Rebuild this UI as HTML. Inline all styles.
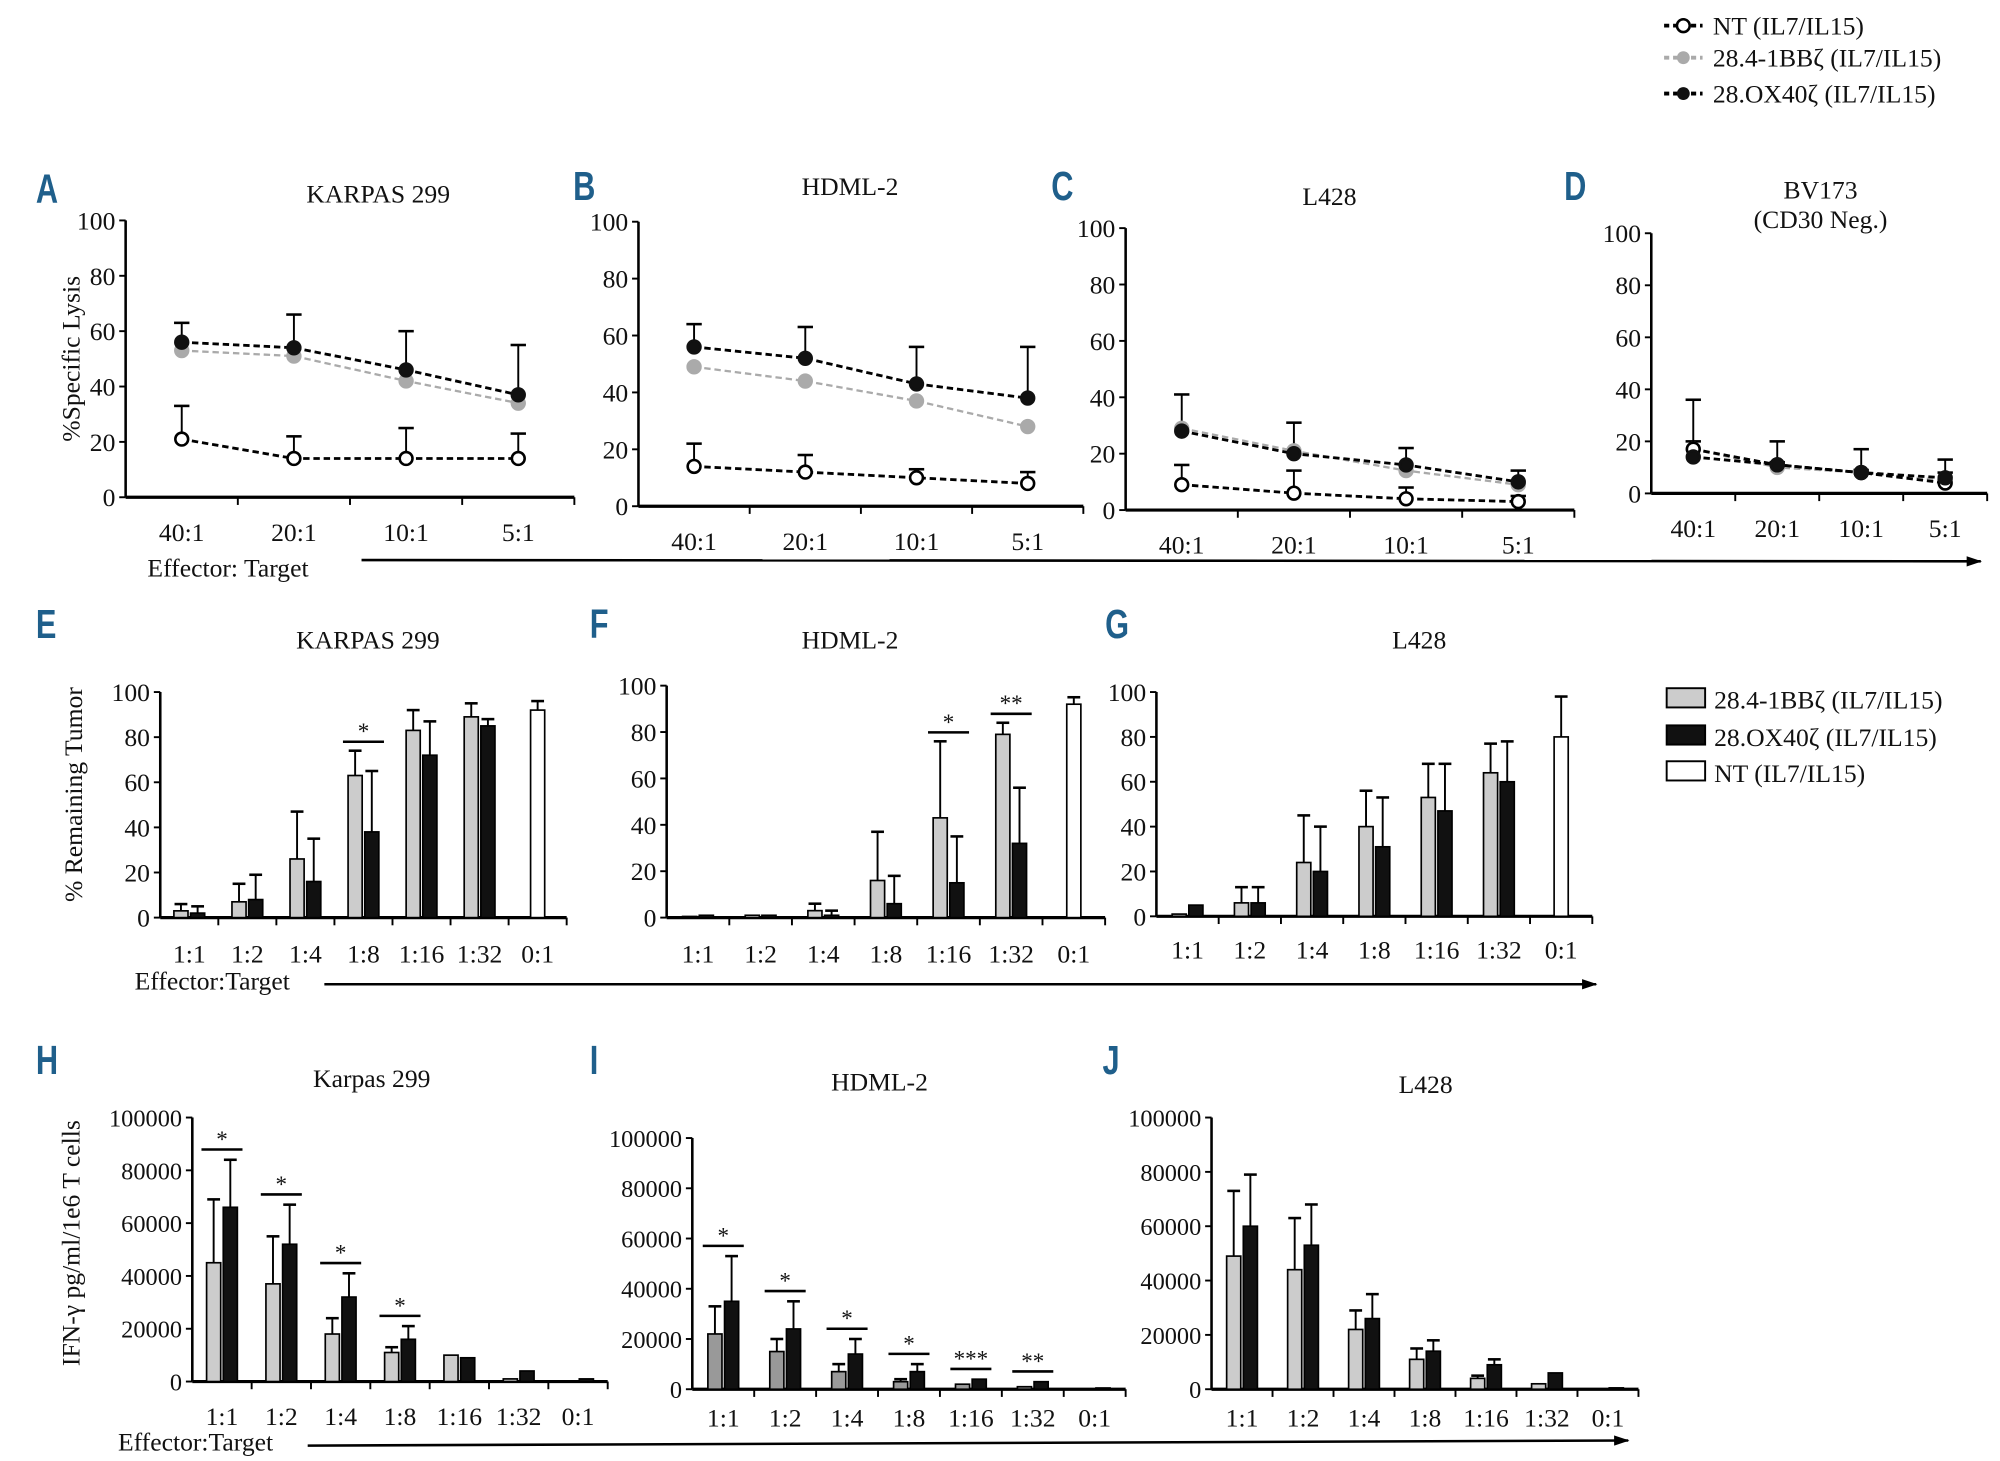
<!DOCTYPE html>
<html><head><meta charset="utf-8"><style>
html,body{margin:0;padding:0;background:#fff}
svg{display:block}
text{font-family:"Liberation Serif",serif;fill:#111}
.pl{font-family:"Liberation Sans",sans-serif;font-weight:bold;fill:#1f5f8b;font-size:30px}
</style></head><body>
<svg id="fig" width="2000" height="1461" viewBox="0 0 1560 1140" preserveAspectRatio="none" xmlns="http://www.w3.org/2000/svg">
<defs><marker id="ah" markerUnits="userSpaceOnUse" markerWidth="12" markerHeight="8" refX="11" refY="4" orient="auto"><path d="M0,0 L12,4 L0,8 z" fill="#000"/></marker></defs>
<g>
 <line x1="1298" y1="20" x2="1328" y2="20" stroke="#000" stroke-width="3" stroke-dasharray="4,3"/><circle cx="1313" cy="20" r="5" fill="#fff" stroke="#000" stroke-width="2"/><text x="1336" y="27" font-size="20" font-family="Liberation Serif, serif">NT (IL7/IL15)</text>
 <line x1="1298" y1="45" x2="1328" y2="45" stroke="#aaa" stroke-width="3" stroke-dasharray="4,3"/><circle cx="1313" cy="45" r="5" fill="#aaa"/><text x="1336" y="52" font-size="20" font-family="Liberation Serif, serif">28.4-1BBζ (IL7/IL15)</text>
 <line x1="1298" y1="73" x2="1328" y2="73" stroke="#000" stroke-width="3" stroke-dasharray="4,3"/><circle cx="1313" cy="73" r="5" fill="#111"/><text x="1336" y="80" font-size="20" font-family="Liberation Serif, serif">28.OX40ζ (IL7/IL15)</text>
</g>
<g>
 <rect x="1300" y="537" width="30" height="15" fill="#ccc" stroke="#000" stroke-width="1.5"/><text x="1337" y="553" font-size="20" font-family="Liberation Serif, serif">28.4-1BBζ  (IL7/IL15)</text>
 <rect x="1300" y="566" width="30" height="15" fill="#111" stroke="#000" stroke-width="1.5"/><text x="1337" y="582" font-size="20" font-family="Liberation Serif, serif">28.OX40ζ (IL7/IL15)</text>
 <rect x="1300" y="594" width="30" height="15" fill="#fff" stroke="#000" stroke-width="1.5"/><text x="1337" y="610" font-size="20" font-family="Liberation Serif, serif">NT (IL7/IL15)</text>
</g>
<line x1="282" y1="437" x2="1545" y2="438" stroke="#000" stroke-width="2" marker-end="url(#ah)"/>
<text x="115" y="450" font-size="20" font-family="Liberation Serif, serif">Effector: Target</text>
<line x1="253" y1="768" x2="1245" y2="768" stroke="#000" stroke-width="2" marker-end="url(#ah)"/>
<text x="105" y="772" font-size="20" font-family="Liberation Serif, serif">Effector:Target</text>
<line x1="240" y1="1128" x2="1270" y2="1124" stroke="#000" stroke-width="2" marker-end="url(#ah)"/>
<text x="92" y="1132" font-size="20" font-family="Liberation Serif, serif">Effector:Target</text>
<text transform="translate(62,280) rotate(-90)" text-anchor="middle" font-size="20" font-family="Liberation Serif, serif">%Specific Lysis</text>
<text transform="translate(64,620) rotate(-90)" text-anchor="middle" font-size="20" font-family="Liberation Serif, serif">% Remaining Tumor</text>
<text transform="translate(62,970) rotate(-90)" text-anchor="middle" font-size="20" font-family="Liberation Serif, serif">IFN-γ pg/ml/1e6 T cells</text>
</svg>
<script>
const lineCats = ["40:1","20:1","10:1","5:1"];
const barCats = ["1:1","1:2","1:4","1:8","1:16","1:32","0:1"];
const pctTicks = [0,20,40,60,80,100];
const ifnTicks = [0,20000,40000,60000,80000,100000];
const aBlack=[56,54,46,37], aGray=[53,51,42,34], aOpen=[21,14,14,14];
const aBlackErr=[63,66,60,55], aOpenErr=[33,22,25,23];
const bBlack=[56,52,43,38], bGray=[49,44,37,28], bOpen=[14,12,10,8];
const bBlackErr=[64,63,56,56], bOpenErr=[22,18,13,12];
const cBlack=[28,20,16,10], cGray=[29,21,14,9], cOpen=[9,6,4,3];
const cBlackErr=[41,31,22,14], cOpenErr=[16,14,8,5];
const dBlack=[14,11,8,6], dGray=[17,10,8,5], dOpen=[17,11,8,4];
const dBlackErr=[20,20,17,13], dOpenErr=[36,12,9,8];
const eGray=[3,7,26,63,83,89,null], eBlack=[2,8,16,38,72,85,null], eNT=[null,null,null,null,null,null,92];
const eGrayErr=[6,15,47,74,92,95,null], eBlackErr=[5,19,35,65,87,88,null], eNTErr=[null,null,null,null,null,null,96];
const fGray=[0.5,1,3,16,43,79,null], fBlack=[1,1,1,6,15,32,null], fNT=[null,null,null,null,null,null,92];
const fGrayErr=[null,null,6,37,76,84,null], fBlackErr=[null,null,3,18,35,56,null], fNTErr=[null,null,null,null,null,null,95];
const gGray=[1,6,24,40,53,64,null], gBlack=[5,6,20,31,47,60,null], gNT=[null,null,null,null,null,null,80];
const gGrayErr=[null,13,45,56,68,77,null], gBlackErr=[null,13,40,53,68,78,null], gNTErr=[null,null,null,null,null,null,98];
const hGray=[45000,37000,18000,11000,10000,1000,null], hBlack=[66000,52000,32000,16000,9000,4000,1000];
const hGrayErr=[69000,55000,24000,13000,null,null,null], hBlackErr=[84000,67000,41000,21000,null,null,null];
const iGray=[22000,15000,7000,3000,2000,1000,null], iBlack=[35000,24000,14000,7000,4000,3000,500];
const iGrayErr=[33000,20000,10000,4000,null,null,null], iBlackErr=[53000,35000,20000,10000,null,null,null];
const jGray=[49000,44000,22000,11000,4000,2000,null], jBlack=[60000,53000,26000,14000,9000,6000,500];
const jGrayErr=[73000,63000,29000,15000,5000,null,null], jBlackErr=[79000,68000,35000,18000,11000,null,null];
const hStars=["*","*","*","*",null,null,null];
const iStars=["*","*","*","*","***","**",null];
const eStars=[null,null,null,"*",null,null,null];
const fStars=[null,null,null,null,"*","**",null];

const svg=document.getElementById('fig');
const NS="http://www.w3.org/2000/svg";
function mk(tag,attrs,parent){const e=document.createElementNS(NS,tag);for(const k in attrs)e.setAttribute(k,attrs[k]);(parent||svg).appendChild(e);return e;}
function txt(s,x,y,size,anchor,parent){const t=mk('text',{x:x,y:y,'font-size':size,'text-anchor':anchor||'start','font-family':'Liberation Serif, serif'},parent);t.textContent=s;return t;}

function axes(p,g,ticks,ymax,cats){
  const ys=v=>p.y0-(v/ymax)*(p.y0-p.y1);
  mk('line',{x1:p.x0,y1:p.y1,x2:p.x0,y2:p.y0,stroke:'#000','stroke-width':2},g);
  mk('line',{x1:p.x0,y1:p.y0,x2:p.xe,y2:p.y0,stroke:'#000','stroke-width':2.5},g);
  ticks.forEach(t=>{const y=ys(t);mk('line',{x1:p.x0-5,y1:y,x2:p.x0,y2:y,stroke:'#000','stroke-width':1.5},g);
    txt(String(t),p.x0-8,y+7,p.tfs||20,'end',g);});
  const step=(p.xe-p.x0)/cats.length;
  const xs=i=>p.x0+step*(i+0.5);
  for(let i=1;i<=cats.length;i++){mk('line',{x1:p.x0+step*i,y1:p.y0,x2:p.x0+step*i,y2:p.y0+6,stroke:'#000','stroke-width':1.5},g);}
  cats.forEach((c,i)=>txt(c,xs(i),p.ly,20,'middle',g));
  const L=txt(p.letter,p.lx,p.lyy,30,'start',g);
  L.setAttribute('class','pl');
  L.setAttribute('font-family','Liberation Sans, sans-serif');
  L.setAttribute('transform','translate('+p.lx+','+p.lyy+') scale(0.8,1.05) translate('+(-p.lx)+','+(-p.lyy)+')');
  txt(p.title,p.tx,p.ty,20,'middle',g);
  if(p.title2)txt(p.title2,p.tx,p.ty+23,20,'middle',g);
  return {ys,xs,step};
}

function linePanel(p,black,gray,open,blackErr,openErr){
  const g=mk('g',{});
  
  
  const {ys,xs}=axes(p,g,pctTicks,100,lineCats);
  function err(vals,errs){vals.forEach((v,i)=>{if(errs[i]==null)return;const x=xs(i);
    mk('line',{x1:x,y1:ys(v),x2:x,y2:ys(errs[i]),stroke:'#000','stroke-width':1.5},g);
    mk('line',{x1:x-6,y1:ys(errs[i]),x2:x+6,y2:ys(errs[i]),stroke:'#000','stroke-width':2},g);});}
  err(black,blackErr);err(open,openErr);
  function series(vals,color,fill,name){
    const pl=mk('polyline',{points:vals.map((v,i)=>xs(i)+','+ys(v)).join(' '),fill:'none',stroke:color,'stroke-width':color=='#000'?2.2:1.8,'stroke-dasharray':'5,3'},g);
    
    
    vals.forEach((v,i)=>{const c=mk('circle',{cx:xs(i),cy:ys(v),r:5,fill:fill,stroke:fill=='#fff'?'#000':fill,'stroke-width':2},g);
      
      });
  }
  series(gray,'#aaa','#aaa','gray-car');
  series(open,'#000','#fff','nt');
  series(black,'#000','#111','black-car');
}

function barPanel(p,ticks,ymax,gray,black,nt,grayErr,blackErr,ntErr,stars,grayColor){
  const g=mk('g',{});
  
  
  const {ys,xs}=axes(p,g,ticks,ymax,barCats);
  const w=p.bw||11;
  function bars(vals,errs,off,fill,name){vals.forEach((v,i)=>{if(v==null)return;const x=xs(i)+off;
    if(errs&&errs[i]!=null){mk('line',{x1:x,y1:ys(v),x2:x,y2:ys(errs[i]),stroke:'#000','stroke-width':1.5},g);
      mk('line',{x1:x-5,y1:ys(errs[i]),x2:x+5,y2:ys(errs[i]),stroke:'#000','stroke-width':2},g);}
    const r=mk('rect',{x:x-w/2,y:ys(v),width:w,height:Math.max(0.5,p.y0-ys(v)),fill:fill,stroke:'#000','stroke-width':1.3},g);
    
    });}
  bars(gray,grayErr,-w/2-1,grayColor||'#ccc','gray-car');
  bars(black,blackErr,w/2+1,'#111','black-car');
  if(nt)bars(nt,ntErr,0,'#fff','nt');
  if(stars)stars.forEach((s,i)=>{if(!s)return;const top=Math.max(grayErr[i]||0,blackErr[i]||0,gray[i]||0,black[i]||0);
    const y=ys(top)-p.sg;mk('line',{x1:xs(i)-16,y1:y,x2:xs(i)+16,y2:y,stroke:'#000','stroke-width':2},g);
    txt(s,xs(i),y-2,18,'middle',g);});
}

linePanel({x0:98,y0:388,y1:172,xe:448,ly:422,letter:'A',lx:28,lyy:158,title:'KARPAS 299',tx:295,ty:158},aBlack,aGray,aOpen,aBlackErr,aOpenErr);
linePanel({x0:498,y0:395,y1:173,xe:845,ly:429,letter:'B',lx:447,lyy:156,title:'HDML-2',tx:663,ty:152},bBlack,bGray,bOpen,bBlackErr,bOpenErr);
linePanel({x0:878,y0:398,y1:178,xe:1228,ly:432,letter:'C',lx:820,lyy:156,title:'L428',tx:1037,ty:160},cBlack,cGray,cOpen,cBlackErr,cOpenErr);
linePanel({x0:1288,y0:385,y1:182,xe:1550,ly:419,letter:'D',lx:1220,lyy:156,title:'BV173',tx:1420,ty:155,title2:'(CD30 Neg.)'},dBlack,dGray,dOpen,dBlackErr,dOpenErr);

barPanel({x0:125,y0:716,y1:540,xe:442,ly:751,letter:'E',lx:28,lyy:498,title:'KARPAS 299',tx:287,ty:506,sg:7},pctTicks,100,eGray,eBlack,eNT,eGrayErr,eBlackErr,eNTErr,eStars);
barPanel({x0:520,y0:716,y1:535,xe:862,ly:751,letter:'F',lx:460,lyy:498,title:'HDML-2',tx:663,ty:506,sg:7},pctTicks,100,fGray,fBlack,fNT,fGrayErr,fBlackErr,fNTErr,fStars);
barPanel({x0:902,y0:715,y1:540,xe:1242,ly:748,letter:'G',lx:862,lyy:498,title:'L428',tx:1107,ty:506,sg:7},pctTicks,100,gGray,gBlack,gNT,gGrayErr,gBlackErr,gNTErr,null);

barPanel({x0:150,y0:1078,y1:872,xe:474,ly:1112,letter:'H',lx:28,lyy:838,title:'Karpas 299',tx:290,ty:848,sg:8,tfs:19},ifnTicks,100000,hGray,hBlack,null,hGrayErr,hBlackErr,null,hStars);
barPanel({x0:540,y0:1084,y1:888,xe:878,ly:1113,letter:'I',lx:460,lyy:838,title:'HDML-2',tx:686,ty:851,sg:8,tfs:19},ifnTicks,100000,iGray,iBlack,null,iGrayErr,iBlackErr,null,iStars,'#999');
barPanel({x0:945,y0:1084,y1:872,xe:1278,ly:1113,letter:'J',lx:860,lyy:838,title:'L428',tx:1112,ty:853,sg:8,tfs:19},ifnTicks,100000,jGray,jBlack,null,jGrayErr,jBlackErr,null,null);
</script>
</body></html>
